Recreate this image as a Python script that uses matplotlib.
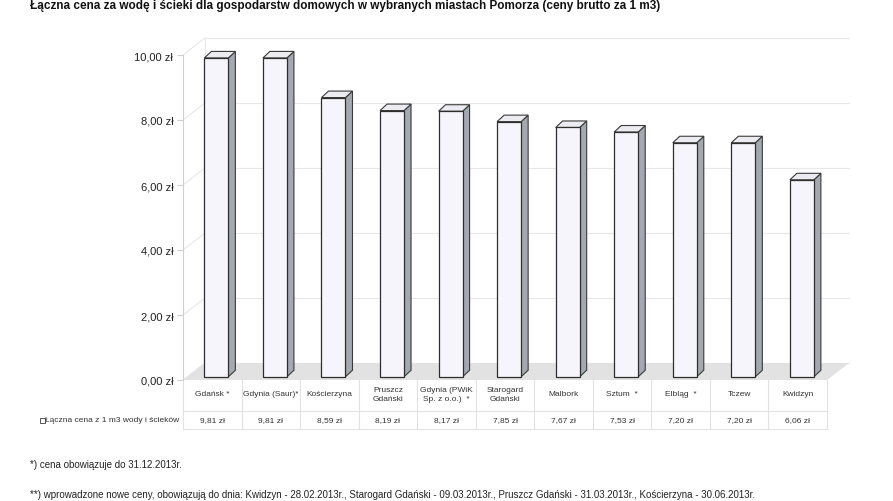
import numpy as np
import matplotlib
matplotlib.use("Agg")
from matplotlib import pyplot as plt
from matplotlib.patches import Polygon

# Dane
miasta = ["Gdańsk *", "Gdynia (Saur)*", "Kościerzyna", "Pruszcz\nGdański",
          "Gdynia (PWiK\nSp. z o.o.)  *", "Starogard\nGdański", "Malbork",
          "Sztum  *", "Elbląg  *", "Tczew", "Kwidzyn"]
ceny = [9.81, 9.81, 8.59, 8.19, 8.17, 7.85, 7.67, 7.53, 7.20, 7.20, 6.06]
ceny_txt = ["9,81 zł", "9,81 zł", "8,59 zł", "8,19 zł", "8,17 zł", "7,85 zł",
            "7,67 zł", "7,53 zł", "7,20 zł", "7,20 zł", "6,06 zł"]
seria = "Łączna cena z 1 m3 wody i ścieków"
yticks = [0, 2, 4, 6, 8, 10]

tytul = ("Łączna cena za wodę i ścieki dla gospodarstw domowych w wybranych "
         "miastach Pomorza (ceny brutto za 1 m3)")
przypis1 = "*) cena obowiązuje do 31.12.2013r."
przypis2 = ("**) wprowadzone nowe ceny, obowiązują do dnia: Kwidzyn - 28.02.2013r., "
            "Starogard Gdański - 09.03.2013r., Pruszcz Gdański - 31.03.2013r., "
            "Kościerzyna - 30.06.2013r.")

plt.rcParams['font.family'] = ["Liberation Sans", "DejaVu Sans"]

fig = plt.figure(figsize=(8.93, 5.02), dpi=100)
ax = fig.add_axes([183 / 893, (502 - 381) / 502, 667 / 893, 10.75 * 32.5 / 502])
ax.set_xlim(-0.5, 10.5 + 667 / 58.55 - 11)
ax.set_ylim(0, 10.75)

# glebokosc sciany/podlogi i slupkow
wdx, wdy = 22 / 58.5, 17 / 32.5
bdx, bdy = 7 / 58.5, 6.5 / 32.5
bw = 0.41
sx, sy = 0.07, 0.1

# podloga
ax.add_patch(Polygon([(-0.5, 0), (10.5, 0), (10.5 + wdx, wdy), (-0.5 + wdx, wdy)],
                     closed=True, fc="#e2e2e2", ec="none", zorder=1))
# siatka na scianach
for t in yticks:
    ax.plot([-0.5 + wdx, 10.5 + wdx], [t + wdy, t + wdy], color="#e8e8e8", lw=0.8, zorder=0.5)
    ax.plot([-0.5, -0.5 + wdx], [t, t + wdy], color="#e8e8e8", lw=0.8, zorder=0.5)
ax.plot([-0.5 + wdx, -0.5 + wdx], [wdy, 10 + wdy], color="#e8e8e8", lw=0.8, zorder=0.5)

# slupki 3D
for i, v in enumerate(ceny):
    x0 = i - bw / 2 + sx
    x1 = i + bw / 2 + sx
    y0 = sy
    y1 = v + sy
    ax.add_patch(Polygon([(x1, y0), (x1 + bdx, y0 + bdy), (x1 + bdx, y1 + bdy), (x1, y1)],
                         closed=True, fc="#a4a9b0", ec="#3a3a3a", lw=0.8, zorder=3))
    ax.add_patch(Polygon([(x0, y1), (x1, y1), (x1 + bdx, y1 + bdy), (x0 + bdx, y1 + bdy)],
                         closed=True, fc="#ebebf0", ec="#3a3a3a", lw=0.8, zorder=3))
    ax.add_patch(Polygon([(x0, y0), (x1, y0), (x1, y1), (x0, y1)],
                         closed=True, fc="#f6f5fb", ec="#2e2e2e", lw=0.9, zorder=4))

# osie
for s in ["top", "right", "bottom"]:
    ax.spines[s].set_visible(False)
ax.spines["left"].set_color("#cfcfcf")
ax.spines["left"].set_bounds(0, 10)
ax.set_xticks([])
ax.set_yticks(yticks)
ax.set_yticklabels(["{:.2f} zł".format(t).replace(".", ",") for t in yticks],
                   fontsize=8, color="#222222")
ax.tick_params(axis="y", length=4, color="#cfcfcf", pad=3)
ax.set_facecolor("none")

# tabela danych
ppu = 32.5
def py(p):
    return (381 - p) / ppu

lc = "#e2e2e2"
for k in range(12):
    ax.plot([k - 0.5, k - 0.5], [0, py(430)], color=lc, lw=0.8, clip_on=False, zorder=1)
ax.plot([-0.5, 10.5], [py(412), py(412)], color=lc, lw=0.8, clip_on=False)
ax.plot([-0.5, 10.5], [py(430), py(430)], color=lc, lw=0.8, clip_on=False)
for i in range(len(miasta)):
    ax.text(i, py(395), miasta[i], ha="center", va="center", fontsize=6,
            color="#333333", linespacing=1.3, clip_on=False)
    ax.text(i, py(421), ceny_txt[i], ha="center", va="center", fontsize=6,
            color="#333333", clip_on=False)

fig.text(179 / 893, 1 - 421 / 502, seria, ha="right", va="center", fontsize=6,
         color="#333333")
fig.patches.append(Polygon([(40 / 893, 1 - 418.5 / 502), (45 / 893, 1 - 418.5 / 502),
                            (45 / 893, 1 - 423.5 / 502), (40 / 893, 1 - 423.5 / 502)],
                           closed=True, fc="white", ec="#555555", lw=0.7,
                           transform=fig.transFigure, figure=fig))

# tytul i przypisy
fig.text(30 / 893, 1 - 6 / 502, tytul, ha="left", va="center", fontsize=8.5,
         fontweight="bold", color="#111111")
fig.text(30 / 893, 1 - 465 / 502, przypis1, ha="left", va="center", fontsize=7,
         color="#222222")
fig.text(30 / 893, 1 - 495 / 502, przypis2, ha="left", va="center", fontsize=7,
         color="#222222")

plt.savefig("out.png", dpi=100)
